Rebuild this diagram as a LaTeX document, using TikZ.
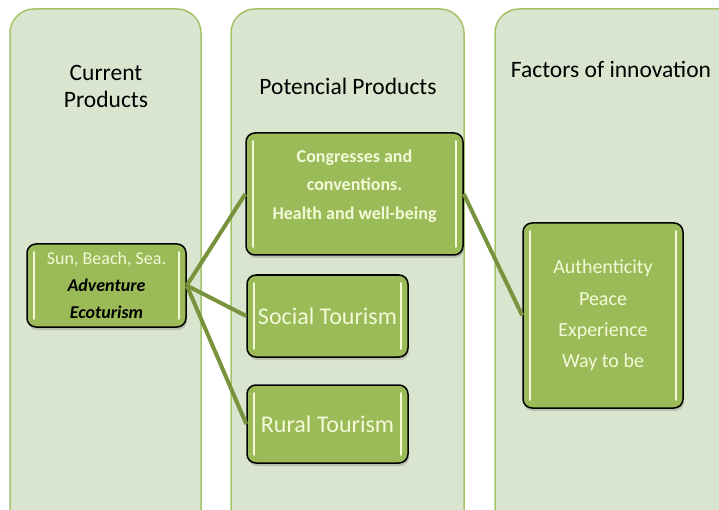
\documentclass[tikz,border=0pt]{standalone}
\usepackage{fontspec}
\setmainfont{Carlito}
\usetikzlibrary{positioning,shadows}
\definecolor{spaltfill}{HTML}{DAE5CF}
\definecolor{spaltrand}{HTML}{A5C46A}
\definecolor{kastfill}{HTML}{9BBB59}
\definecolor{linie}{HTML}{77933C}
\definecolor{glanz}{HTML}{F2FAD8}
\begin{document}
\begin{tikzpicture}[x=1pt,y=-1pt,
  spalte/.style={draw=spaltrand, line width=1.5pt, fill=spaltfill, rounded corners=24pt},
  titel/.style={align=center, text=black, font=\fontsize{23.5}{27}\selectfont},
  kasten/.style={draw=black, line width=1.5pt, fill=kastfill, rounded corners=9pt,
    inner sep=0pt, align=center, text=glanz,
    drop shadow={shadow xshift=1pt, shadow yshift=-3pt, opacity=0.35},
    path picture={
      \draw[glanz, line width=1.6pt, line cap=round]
        ([xshift=7pt,yshift=-8pt]path picture bounding box.north west) --
        ([xshift=7pt,yshift=8pt]path picture bounding box.south west);
      \draw[glanz, line width=1.6pt, line cap=round]
        ([xshift=-7pt,yshift=-8pt]path picture bounding box.north east) --
        ([xshift=-7pt,yshift=8pt]path picture bounding box.south east);
    }},
  verb/.style={linie, line width=4pt}]

  \useasboundingbox (0,0) rectangle (719,510);

  % Spalten
  \begin{scope}
    \clip (0,0) rectangle (719,510);
    \draw[spalte] (10,9) rectangle (201,535);
    \draw[spalte] (231,9) rectangle (464,535);
    \draw[spalte] (495,9) rectangle (760,535);
  \end{scope}

  \node[titel] (aktuell) at (106,86) {Current\\Products};
  \node[titel] (potenz) at (348,86) {Potencial Products};
  \node[titel] (innov) at (611,69) {Factors of innovation};

  % Kaesten
  \node[kasten, minimum width=159pt, minimum height=83pt,
    font=\fontsize{18}{27}\selectfont] (sonne) at (106.5,285.5)
    {Sun, Beach, Sea.\\\textcolor{black}{\textbf{\textit{Adventure}}}\\
     \textcolor{black}{\textbf{\textit{Ecoturism}}}};
  \node[kasten, minimum width=217pt, minimum height=122pt] (kongress) at (354.5,194) {};
  \node[align=center, text=glanz, font=\bfseries\fontsize{18}{28.5}\selectfont]
    (kongresstext) at ([yshift=8pt]kongress.center)
    {Congresses and\\conventions.\\Health and well-being};
  \node[kasten, minimum width=161pt, minimum height=82pt,
    font=\fontsize{24}{24}\selectfont] (sozial) at (327.5,316) {Social Tourism};
  \node[kasten, minimum width=161pt, minimum height=78pt,
    font=\fontsize{24}{24}\selectfont] (rural) at (327.5,424) {Rural Tourism};
  \node[kasten, minimum width=160pt, minimum height=185pt,
    font=\fontsize{20}{31.3}\selectfont] (faktor) at (603,315.5)
    {Authenticity\\Peace\\Experience\\Way to be};

  \draw[verb] (sonne.east) -- (kongress.west);
  \draw[verb] (sonne.east) -- (sozial.west);
  \draw[verb] (sonne.east) -- (rural.west);
  \draw[verb] (kongress.east) -- (faktor.west);

\end{tikzpicture}
\end{document}
